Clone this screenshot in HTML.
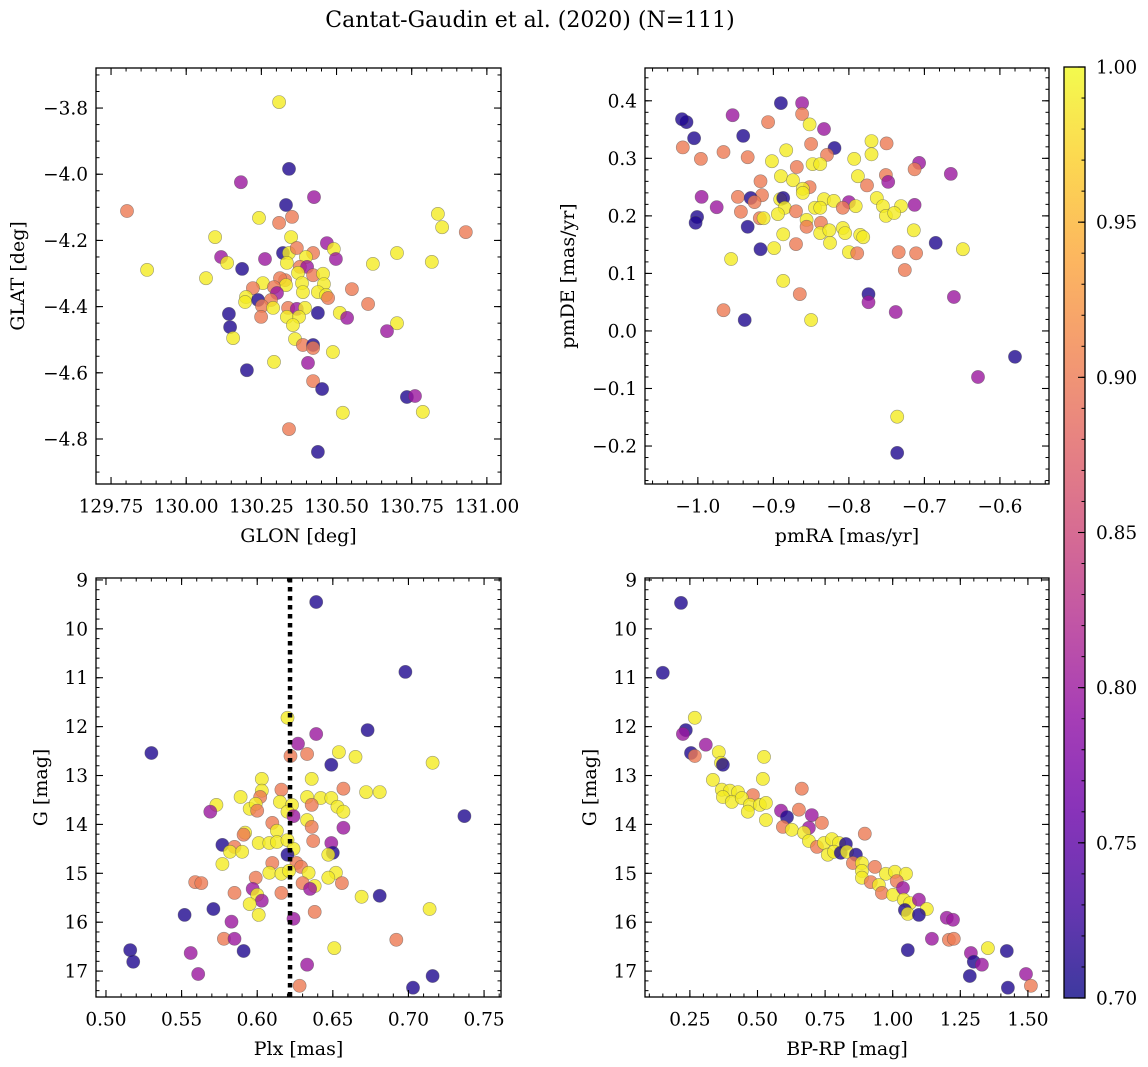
<!DOCTYPE html>
<html><head><meta charset="utf-8">
<style>
html,body{margin:0;padding:0;background:#fff;}
svg{display:block;font-family:"DejaVu Serif","Liberation Serif",serif;}
</style></head>
<body>
<svg id="fig" width="1148" height="1067" viewBox="0 0 1148 1067" xmlns="http://www.w3.org/2000/svg">
<defs>
<linearGradient id="plasmaGrad" x1="0" y1="1" x2="0" y2="0">
<stop offset="0" stop-color="#0d0887"/><stop offset="0.1" stop-color="#41049d"/><stop offset="0.2" stop-color="#6a00a8"/><stop offset="0.3" stop-color="#8f0da4"/><stop offset="0.4" stop-color="#b12a90"/><stop offset="0.5" stop-color="#cc4778"/><stop offset="0.6" stop-color="#e16462"/><stop offset="0.7" stop-color="#f2844b"/><stop offset="0.8" stop-color="#fca636"/><stop offset="0.9" stop-color="#fcce25"/><stop offset="1" stop-color="#f0f921"/>
</linearGradient>
</defs>
<text x="530" y="27" font-size="22" text-anchor="middle">Cantat-Gaudin et al. (2020) (N=111)</text>
</svg>
<script>
// ---------- Panel 1: GLON vs GLAT ----------
const p1Lon=[129.803,129.870,130.309,130.342,130.182,130.425,130.332,130.242,130.309,130.352,130.096,130.349,130.468,130.491,130.701,130.322,130.342,130.368,130.422,130.398,130.116,130.136,130.262,130.186,130.498,130.621,130.066,130.335,130.378,130.402,130.422,130.455,130.372,130.329,130.312,130.255,130.332,130.385,130.458,130.222,130.292,130.302,130.388,130.438,130.465,130.472,130.551,130.199,130.196,130.239,130.282,130.252,130.289,130.339,130.368,130.395,130.438,130.605,130.511,130.535,130.701,130.668,130.142,130.146,130.156,130.249,130.335,130.375,130.355,130.362,130.388,130.422,130.422,130.488,130.292,130.405,130.202,130.422,130.452,130.342,130.438,130.521,130.787,130.734,130.761,130.817,130.837,130.851,130.930];
const p1Lat=[-4.111,-4.289,-3.782,-3.984,-4.024,-4.069,-4.093,-4.132,-4.147,-4.129,-4.190,-4.190,-4.208,-4.226,-4.238,-4.238,-4.238,-4.223,-4.238,-4.250,-4.250,-4.268,-4.256,-4.286,-4.256,-4.271,-4.314,-4.268,-4.280,-4.280,-4.305,-4.301,-4.298,-4.320,-4.314,-4.329,-4.335,-4.329,-4.332,-4.344,-4.341,-4.359,-4.356,-4.356,-4.365,-4.374,-4.347,-4.371,-4.386,-4.380,-4.380,-4.398,-4.404,-4.404,-4.407,-4.404,-4.419,-4.392,-4.419,-4.434,-4.450,-4.474,-4.422,-4.462,-4.495,-4.431,-4.431,-4.431,-4.456,-4.498,-4.516,-4.516,-4.525,-4.537,-4.567,-4.570,-4.592,-4.625,-4.649,-4.770,-4.839,-4.721,-4.718,-4.673,-4.670,-4.265,-4.120,-4.160,-4.175];
const p1Prob=[0.90,0.99,0.99,0.71,0.80,0.80,0.71,0.99,0.90,0.90, 0.99,0.99,0.80,0.99,0.99,0.71,0.99,0.90,0.90,0.99, 0.80,0.99,0.80,0.71,0.80,0.99,0.99,0.99,0.90,0.80, 0.90,0.99,0.99,0.90,0.90,0.99,0.99,0.99,0.99,0.90, 0.90,0.80,0.99,0.99,0.99,0.90,0.90,0.99,0.99,0.71, 0.90,0.90,0.99,0.90,0.80,0.99,0.71,0.90,0.99,0.80, 0.99,0.80,0.71,0.71,0.99,0.90,0.99,0.99,0.99,0.99, 0.90,0.71,0.90,0.99,0.99,0.80,0.71,0.90,0.71,0.90, 0.71,0.99,0.99,0.71,0.80,0.99,0.99,0.99,0.90];
const p1XTicks=[129.75,130.00,130.25,130.50,130.75,131.00];
const p1YTicks=[-3.8,-4.0,-4.2,-4.4,-4.6,-4.8];

// ---------- Panel 2: pmRA vs pmDE ----------
const p2PmRA=[-0.890,-0.862,-0.954,-1.015,-1.021,-0.907,-0.862,-0.852,-0.833,-1.005,-0.940,-1.020,-0.966,-0.934,-0.996,-0.850,-0.819,-0.829,-0.883,-0.770,-0.750,-0.770,-0.793,-0.902,-0.848,-0.838,-0.869,-0.707,-0.713,-0.665,-0.788,-0.890,-0.751,-0.748,-0.776,-0.874,-0.917,-0.852,-0.861,-0.861,-0.995,-0.975,-0.947,-0.915,-0.930,-0.925,-0.891,-0.887,-0.885,-0.833,-0.820,-0.800,-0.791,-0.763,-0.755,-0.731,-0.713,-0.845,-0.838,-0.808,-0.943,-0.870,-0.894,-0.751,-0.740,-1.001,-1.003,-0.918,-0.913,-0.856,-0.856,-0.837,-0.934,-0.838,-0.826,-0.808,-0.805,-0.785,-0.781,-0.714,-0.887,-0.825,-0.870,-0.685,-0.649,-0.917,-0.899,-0.800,-0.789,-0.734,-0.711,-0.956,-0.726,-0.887,-0.865,-0.774,-0.774,-0.661,-0.966,-0.938,-0.850,-0.738,-0.629,-0.580,-0.736,-0.736];
const p2PmDE=[0.396,0.396,0.375,0.363,0.368,0.363,0.377,0.359,0.351,0.335,0.339,0.319,0.311,0.302,0.299,0.325,0.318,0.306,0.314,0.330,0.326,0.307,0.299,0.295,0.290,0.290,0.285,0.292,0.281,0.273,0.269,0.269,0.271,0.259,0.253,0.262,0.260,0.250,0.247,0.240,0.233,0.215,0.233,0.236,0.231,0.224,0.229,0.231,0.214,0.229,0.226,0.224,0.217,0.231,0.217,0.217,0.219,0.214,0.214,0.214,0.207,0.208,0.203,0.200,0.205,0.198,0.188,0.196,0.196,0.193,0.181,0.188,0.181,0.170,0.175,0.179,0.170,0.167,0.163,0.175,0.168,0.153,0.151,0.153,0.142,0.142,0.144,0.137,0.135,0.137,0.135,0.125,0.106,0.087,0.064,0.064,0.050,0.059,0.036,0.019,0.019,0.033,-0.080,-0.045,-0.149,-0.212];
const p2Prob=[0.71,0.80,0.80,0.71,0.71,0.90,0.90,0.99,0.80,0.71, 0.71,0.90,0.90,0.90,0.90,0.90,0.71,0.90,0.99,0.99, 0.90,0.99,0.99,0.99,0.99,0.99,0.90,0.80,0.90,0.80, 0.99,0.99,0.90,0.80,0.90,0.99,0.90,0.90,0.99,0.99, 0.80,0.80,0.90,0.90,0.71,0.90,0.99,0.71,0.99,0.99, 0.99,0.80,0.99,0.99,0.99,0.99,0.80,0.99,0.99,0.90, 0.90,0.90,0.99,0.99,0.99,0.71,0.71,0.90,0.99,0.99, 0.90,0.90,0.71,0.99,0.99,0.99,0.99,0.99,0.99,0.99, 0.99,0.99,0.90,0.71,0.99,0.71,0.99,0.99,0.90,0.90, 0.90,0.99,0.90,0.99,0.90,0.71,0.80,0.80,0.90,0.71, 0.99,0.80,0.80,0.71,0.99,0.71];
const p2XTicks=[-1.0,-0.9,-0.8,-0.7,-0.6];
const p2YTicks=[0.4,0.3,0.2,0.1,0.0,-0.1,-0.2];

// ---------- Panel 3: Plx vs G ----------
const p3Plx=[0.620,0.639,0.673,0.627,0.622,0.633,0.654,0.665,0.649,0.603,0.636,0.616,0.657,0.672,0.681,0.603,0.589,0.602,0.633,0.642,0.649,0.615,0.623,0.636,0.653,0.657,0.573,0.569,0.595,0.599,0.600,0.620,0.624,0.633,0.636,0.657,0.610,0.613,0.592,0.591,0.637,0.649,0.601,0.608,0.613,0.620,0.577,0.585,0.582,0.590,0.624,0.620,0.650,0.647,0.610,0.577,0.626,0.629,0.608,0.616,0.621,0.634,0.652,0.647,0.599,0.630,0.656,0.638,0.635,0.559,0.563,0.585,0.597,0.600,0.616,0.669,0.681,0.603,0.595,0.601,0.552,0.571,0.583,0.624,0.638,0.714,0.578,0.585,0.591,0.556,0.561,0.516,0.518,0.633,0.628,0.651,0.692,0.703,0.716,0.530,0.639,0.698,0.737,0.716];
const p3G=[11.82,12.15,12.07,12.35,12.60,12.56,12.52,12.62,12.78,13.07,13.07,13.29,13.27,13.34,13.34,13.31,13.44,13.44,13.44,13.46,13.46,13.54,13.60,13.60,13.64,13.74,13.60,13.74,13.68,13.58,13.72,13.74,13.83,13.91,14.05,14.07,13.97,14.13,14.17,14.21,14.34,14.38,14.38,14.38,14.36,14.32,14.42,14.46,14.56,14.56,14.50,14.62,14.58,14.62,14.79,14.81,14.79,14.87,14.99,15.01,14.95,14.99,14.99,15.09,15.09,15.20,15.20,15.26,15.32,15.18,15.20,15.40,15.32,15.44,15.40,15.48,15.46,15.56,15.63,15.85,15.85,15.73,15.99,15.93,15.79,15.73,16.34,16.34,16.59,16.63,17.06,16.57,16.81,16.87,17.30,16.53,16.36,17.34,17.10,12.54,9.45,10.88,13.83,12.74];
const p3Prob=[0.99,0.80,0.71,0.80,0.90,0.90,0.99,0.99,0.71,0.99, 0.99,0.90,0.90,0.99,0.99,0.99,0.99,0.90,0.99,0.99, 0.99,0.99,0.99,0.90,0.99,0.99,0.99,0.80,0.99,0.99, 0.90,0.99,0.80,0.99,0.90,0.80,0.90,0.99,0.99,0.90, 0.90,0.80,0.99,0.99,0.99,0.99,0.71,0.90,0.99,0.99, 0.99,0.71,0.71,0.99,0.90,0.99,0.90,0.90,0.99,0.99, 0.99,0.99,0.99,0.99,0.90,0.90,0.90,0.99,0.80,0.90, 0.90,0.90,0.80,0.99,0.90,0.99,0.71,0.80,0.99,0.99, 0.71,0.71,0.80,0.80,0.90,0.99,0.90,0.80,0.71,0.80, 0.80,0.71,0.71,0.80,0.90,0.99,0.90,0.71,0.71,0.71, 0.71,0.71,0.71,0.99];
const p3XTicks=[0.50,0.55,0.60,0.65,0.70,0.75];
const p3YTicks=[9,10,11,12,13,14,15,16,17];
const plxMarker=[0.6217];

// ---------- Panel 4: BP-RP vs G ----------
const p4Color=[0.150,0.217,0.268,0.235,0.224,0.309,0.254,0.268,0.357,0.365,0.372,0.524,0.335,0.520,0.368,0.398,0.428,0.483,0.372,0.405,0.442,0.472,0.509,0.531,0.464,0.531,0.664,0.653,0.587,0.609,0.701,0.738,0.690,0.594,0.627,0.672,0.690,0.720,0.746,0.775,0.801,0.827,0.760,0.783,0.808,0.831,0.864,0.897,0.853,0.886,0.934,0.886,0.886,0.919,0.975,1.008,1.049,0.949,1.015,0.960,1.001,1.038,1.041,1.064,1.097,1.126,1.045,1.056,1.097,1.200,1.223,1.145,1.208,1.226,1.056,1.289,1.300,1.330,1.352,1.422,1.285,1.493,1.426,1.511];
const p4G=[10.90,9.47,11.82,12.07,12.15,12.37,12.54,12.60,12.52,12.74,12.78,12.62,13.09,13.07,13.29,13.31,13.34,13.40,13.44,13.54,13.46,13.60,13.60,13.56,13.74,13.91,13.27,13.70,13.72,13.85,13.81,13.97,14.07,14.05,14.11,14.17,14.34,14.46,14.38,14.30,14.38,14.40,14.62,14.56,14.58,14.56,14.62,14.19,14.79,14.79,14.87,14.95,15.09,15.18,15.01,14.97,15.01,15.24,15.16,15.40,15.44,15.30,15.54,15.61,15.54,15.73,15.75,15.83,15.85,15.91,15.95,16.34,16.36,16.34,16.57,16.63,16.81,16.87,16.53,16.59,17.10,17.06,17.34,17.30];
const p4Prob=[0.71,0.71,0.99,0.71,0.80,0.80,0.71,0.90,0.99,0.99, 0.71,0.99,0.99,0.99,0.99,0.99,0.99,0.90,0.99,0.99, 0.99,0.99,0.99,0.99,0.99,0.99,0.90,0.90,0.80,0.71, 0.80,0.90,0.80,0.90,0.99,0.99,0.99,0.90,0.99,0.99, 0.99,0.71,0.99,0.99,0.71,0.99,0.71,0.90,0.90,0.99, 0.90,0.99,0.99,0.90,0.99,0.99,0.99,0.99,0.90,0.90, 0.99,0.80,0.99,0.99,0.80,0.99,0.71,0.99,0.71,0.80, 0.80,0.80,0.90,0.90,0.71,0.80,0.71,0.80,0.99,0.71, 0.71,0.80,0.71,0.90];
const p4XTicks=[0.25,0.50,0.75,1.00,1.25,1.50];
const p4YTicks=[9,10,11,12,13,14,15,16,17];

const cbTicks=[0.70,0.75,0.80,0.85,0.90,0.95,1.00];
const cbRange=[0.70,1.00];

// ---------- helpers ----------
const NS='http://www.w3.org/2000/svg';
const svg=document.getElementById('fig');
const plasmaStops=['#0d0887','#41049d','#6a00a8','#8f0da4','#b12a90','#cc4778','#e16462','#f2844b','#fca636','#fcce25','#f0f921'];
function hex(h){return [parseInt(h.slice(1,3),16),parseInt(h.slice(3,5),16),parseInt(h.slice(5,7),16)];}
function plasma(t){t=Math.max(0,Math.min(1,t));const s=t*10;const i=Math.min(9,Math.floor(s));const f=s-i;const a=hex(plasmaStops[i]),b=hex(plasmaStops[i+1]);
 return 'rgb('+a.map((v,k)=>Math.round(v+(b[k]-v)*f)).join(',')+')';}
function el(tag,attrs,parent){const e=document.createElementNS(NS,tag);for(const k in attrs)e.setAttribute(k,attrs[k]);(parent||svg).appendChild(e);return e;}
function minus(s){return s.replace('-','\u2212');}

function panel(cfg){
 const g=el('g',{});
 
 
 const sx=v=>cfg.x0+(v-cfg.xd[0])/(cfg.xd[1]-cfg.xd[0])*(cfg.x1-cfg.x0);
 const sy=v=>cfg.y0+(v-cfg.yd[0])/(cfg.yd[1]-cfg.yd[0])*(cfg.y1-cfg.y0);
 const pg=el('g',{},g);
 
 
 for(let i=0;i<cfg.xs.length;i++){
  const c=el('circle',{cx:sx(cfg.xs[i]).toFixed(1),cy:sy(cfg.ys[i]).toFixed(1),r:6.6,fill:plasma((cfg.ps[i]-cbRange[0])/(cbRange[1]-cbRange[0])),'fill-opacity':0.8,stroke:'rgba(80,80,80,0.55)','stroke-width':0.6},pg);
  
  
 }
 if(cfg.vline){for(const v of cfg.vline){
  const l=el('line',{x1:sx(v),x2:sx(v),y1:cfg.y0,y2:cfg.y1,stroke:'#000','stroke-width':4.5,'stroke-dasharray':'4.5 4.5'},g);
  
  
 }}
 const fr=el('rect',{x:cfg.x0,y:cfg.y0,width:cfg.x1-cfg.x0,height:cfg.y1-cfg.y0,fill:'none',stroke:'#000','stroke-width':1.3},g);
 
 
 const lo=Math.min(...cfg.xd),hi=Math.max(...cfg.xd);
 for(let v=Math.ceil(lo/cfg.xm-1e-6)*cfg.xm;v<=hi+1e-9;v+=cfg.xm){const x=sx(v);
  el('line',{x1:x,x2:x,y1:cfg.y1,y2:cfg.y1-3.5,stroke:'#000','stroke-width':1},g);
  el('line',{x1:x,x2:x,y1:cfg.y0,y2:cfg.y0+3.5,stroke:'#000','stroke-width':1},g);}
 const ylo=Math.min(...cfg.yd),yhi=Math.max(...cfg.yd);
 for(let v=Math.ceil(ylo/cfg.ym-1e-6)*cfg.ym;v<=yhi+1e-9;v+=cfg.ym){const y=sy(v);
  el('line',{x1:cfg.x0,x2:cfg.x0+3.5,y1:y,y2:y,stroke:'#000','stroke-width':1},g);
  el('line',{x1:cfg.x1,x2:cfg.x1-3.5,y1:y,y2:y,stroke:'#000','stroke-width':1},g);}
 cfg.xt.forEach(v=>{const x=sx(v);
  el('line',{x1:x,x2:x,y1:cfg.y1,y2:cfg.y1-7,stroke:'#000','stroke-width':1.1},g);
  el('line',{x1:x,x2:x,y1:cfg.y0,y2:cfg.y0+7,stroke:'#000','stroke-width':1.1},g);
  const t=el('text',{x:x,y:cfg.y1+28.5,'font-size':18.5,'text-anchor':'middle'},g);
  t.textContent=minus(v.toFixed(cfg.xf));
  
  });
 cfg.yt.forEach(v=>{const y=sy(v);
  el('line',{x1:cfg.x0,x2:cfg.x0+7,y1:y,y2:y,stroke:'#000','stroke-width':1.1},g);
  el('line',{x1:cfg.x1,x2:cfg.x1-7,y1:y,y2:y,stroke:'#000','stroke-width':1.1},g);
  const t=el('text',{x:cfg.x0-8,y:y+6.5,'font-size':18.5,'text-anchor':'end'},g);
  t.textContent=minus(v.toFixed(cfg.yf));
  
  });
 const xl=el('text',{x:(cfg.x0+cfg.x1)/2,y:cfg.y1+58,'font-size':19,'text-anchor':'middle'},g);
 xl.textContent=cfg.xlabel;
 
 
 const yl=el('text',{x:0,y:0,'font-size':19,'text-anchor':'middle',transform:'translate('+cfg.ylx+','+(cfg.y0+cfg.y1)/2+') rotate(-90)'},g);
 yl.textContent=cfg.ylabel;
 
 
}

panel({name:'glon-glat-panel',x0:96,x1:501,y0:68,y1:484,xd:[129.700,131.047],yd:[-3.679,-4.936],xs:p1Lon,ys:p1Lat,ps:p1Prob,xt:p1XTicks,yt:p1YTicks,xf:2,yf:1,xm:0.05,ym:0.05,xlabel:'GLON [deg]',ylabel:'GLAT [deg]',ylx:24});
panel({name:'proper-motion-panel',x0:645,x1:1049,y0:68,y1:484,xd:[-1.070,-0.535],yd:[0.457,-0.266],xs:p2PmRA,ys:p2PmDE,ps:p2Prob,xt:p2XTicks,yt:p2YTicks,xf:1,yf:1,xm:0.02,ym:0.02,xlabel:'pmRA [mas/yr]',ylabel:'pmDE [mas/yr]',ylx:574});
panel({name:'parallax-magnitude-panel',x0:96,x1:501,y0:578,y1:997,xd:[0.4934,0.7612],yd:[8.96,17.53],xs:p3Plx,ys:p3G,ps:p3Prob,xt:p3XTicks,yt:p3YTicks,xf:2,yf:0,xm:0.01,ym:0.2,xlabel:'Plx [mas]',ylabel:'G [mag]',ylx:47,vline:plxMarker});
panel({name:'color-magnitude-panel',x0:645,x1:1049,y0:578,y1:997,xd:[0.084,1.578],yd:[8.96,17.53],xs:p4Color,ys:p4G,ps:p4Prob,xt:p4XTicks,yt:p4YTicks,xf:2,yf:0,xm:0.05,ym:0.2,xlabel:'BP-RP [mag]',ylabel:'G [mag]',ylx:596});

(function(){
 const x0=1064,x1=1085,y0=67,y1=998;
 const g=el('g',{});
 
 
 el('rect',{x:x0,y:y0,width:x1-x0,height:y1-y0,fill:'url(#plasmaGrad)','fill-opacity':0.8},g);
 el('rect',{x:x0,y:y0,width:x1-x0,height:y1-y0,fill:'none',stroke:'#000','stroke-width':1.3},g);
 const sy=v=>y1-(v-cbRange[0])/(cbRange[1]-cbRange[0])*(y1-y0);
 for(let k=0;k<=30;k++){const v=cbRange[0]+k*0.01;const y=sy(v);
  el('line',{x1:x1,x2:x1-3.5,y1:y,y2:y,stroke:'#000','stroke-width':1},g);}
 cbTicks.forEach(v=>{const y=sy(v);
  el('line',{x1:x1,x2:x1-7,y1:y,y2:y,stroke:'#000','stroke-width':1.1},g);
  const t=el('text',{x:x1+11,y:y+6.5,'font-size':18.5},g);
  t.textContent=v.toFixed(2);
  
  });
})();
</script>
</body></html>
